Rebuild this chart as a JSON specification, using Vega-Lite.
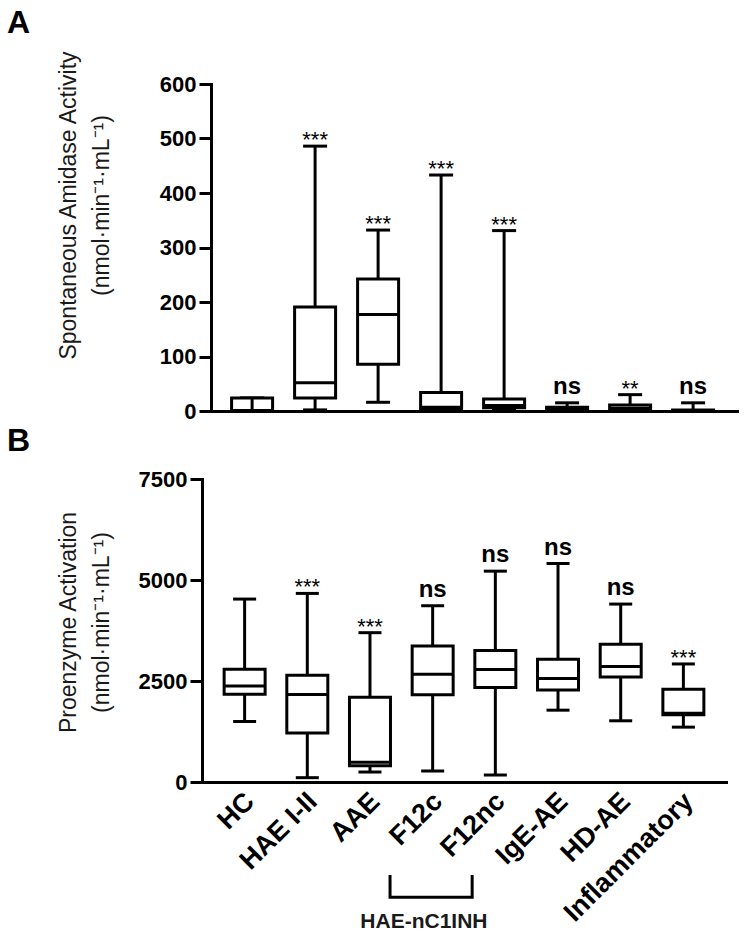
{
  "$schema": "https://vega.github.io/schema/vega-lite/v6.json",
  "background": "white",
  "padding": {"left": 7, "top": 6, "right": 5, "bottom": 4},
  "config": {
    "font": "Liberation Sans",
    "view": {"stroke": null},
    "tick": {"opacity": 1},
    "axis": {
      "domainColor": "black", "domainWidth": 3, "domainCap": "square",
      "tickColor": "black", "tickWidth": 3, "tickSize": 12,
      "labelFont": "Liberation Sans", "labelFontSize": 22, "labelFontWeight": "bold", "labelColor": "black", "labelPadding": 3,
      "grid": false,
      "titleFont": "Liberation Sans", "titleFontSize": 23, "titleFontWeight": "normal", "titleColor": "#1a1a1a", "titleLineHeight": 33
    },
    "title": {"font": "Liberation Sans", "fontSize": 32, "fontWeight": "bold", "color": "black", "anchor": "start", "frame": "group"}
  },
  "datasets": {
    "A": [
      {"group": "HC", "min": 0, "q1": 1, "median": 1, "q3": 24, "max": 24, "sig": "", "through": true},
      {"group": "HAE I-II", "min": 2, "q1": 24, "median": 52, "q3": 191, "max": 486, "sig": "***", "through": false},
      {"group": "AAE", "min": 16, "q1": 86, "median": 177, "q3": 242, "max": 332, "sig": "***", "through": false},
      {"group": "F12c", "min": 1, "q1": 3, "median": 7, "q3": 34, "max": 433, "sig": "***", "through": false},
      {"group": "F12nc", "min": 2, "q1": 6, "median": 10, "q3": 22, "max": 331, "sig": "***", "through": false},
      {"group": "IgE-AE", "min": 0, "q1": 1, "median": 3, "q3": 7, "max": 15, "sig": "ns", "through": false},
      {"group": "HD-AE", "min": 0, "q1": 2, "median": 5, "q3": 11, "max": 30, "sig": "**", "through": false},
      {"group": "Inflammatory", "min": 0, "q1": 0, "median": 1, "q3": 2, "max": 15, "sig": "ns", "through": false}
    ],
    "B": [
      {"group": "HC", "min": 1498, "q1": 2173, "median": 2379, "q3": 2791, "max": 4528, "sig": ""},
      {"group": "HAE I-II", "min": 107, "q1": 1210, "median": 2165, "q3": 2642, "max": 4668, "sig": "***"},
      {"group": "AAE", "min": 247, "q1": 403, "median": 486, "q3": 2099, "max": 3696, "sig": "***"},
      {"group": "F12c", "min": 272, "q1": 2157, "median": 2667, "q3": 3367, "max": 4363, "sig": "ns"},
      {"group": "F12nc", "min": 173, "q1": 2338, "median": 2782, "q3": 3252, "max": 5219, "sig": "ns"},
      {"group": "IgE-AE", "min": 1778, "q1": 2280, "median": 2560, "q3": 3038, "max": 5408, "sig": "ns"},
      {"group": "HD-AE", "min": 1515, "q1": 2601, "median": 2857, "q3": 3408, "max": 4404, "sig": "ns"},
      {"group": "Inflammatory", "min": 1358, "q1": 1663, "median": 1704, "q3": 2297, "max": 2922, "sig": "***"}
    ],
    "bracket": [
      {"bx": 2.32, "by": -2300, "o": 1},
      {"bx": 2.32, "by": -2850, "o": 2},
      {"bx": 3.63, "by": -2850, "o": 3},
      {"bx": 3.63, "by": -2300, "o": 4}
    ],
    "bracketLabel": [
      {"bx": 2.86, "by": -3614, "label": "HAE-nC1INH"}
    ]
  },
  "spacing": 3,
  "vconcat": [
    {
      "title": {"text": "A", "dx": -195, "offset": 10},
      "width": 535,
      "height": 327,
      "data": {"name": "A"},
      "encoding": {
        "x": {"field": "group", "type": "nominal", "sort": null, "scale": {"type": "point", "padding": 0.746, "align": 0.533},
              "axis": {"labels": false, "ticks": false, "title": null}}
      },
      "layer": [
        {
          "mark": {"type": "rule", "strokeWidth": 3, "color": "black"},
          "encoding": {
            "y": {"field": "min", "type": "quantitative", "scale": {"domain": [0, 600], "nice": false},
                  "axis": {"values": [0, 100, 200, 300, 400, 500, 600], "offset": -9,
                           "title": ["Spontaneous Amidase Activity", "(nmol·min⁻¹·mL⁻¹)"],
                           "titleX": -131, "titleY": 121, "titleBaseline": "bottom", "titleAlign": "center"}},
            "y2": {"field": "max"}
          }
        },
        {
          "mark": {"type": "tick", "thickness": 3, "size": 24, "color": "black", "opacity": 1},
          "encoding": {"y": {"field": "max", "type": "quantitative"}}
        },
        {
          "mark": {"type": "tick", "thickness": 3, "size": 24, "color": "black", "opacity": 1},
          "encoding": {"y": {"field": "min", "type": "quantitative"}}
        },
        {
          "mark": {"type": "bar", "width": 41, "fill": "white", "stroke": "black", "strokeWidth": 3, "opacity": 1},
          "encoding": {"y": {"field": "q1", "type": "quantitative"}, "y2": {"field": "q3"}}
        },
        {
          "mark": {"type": "tick", "thickness": 3, "size": 41, "color": "black", "opacity": 1},
          "encoding": {"y": {"field": "median", "type": "quantitative"}}
        },
        {
          "transform": [{"filter": "datum.through"}],
          "mark": {"type": "rule", "strokeWidth": 3, "color": "black"},
          "encoding": {"y": {"field": "min", "type": "quantitative"}, "y2": {"field": "max"}}
        },
        {
          "transform": [{"filter": "datum.sig == 'ns'"}],
          "mark": {"type": "text", "fontWeight": "bold", "fontSize": 24, "baseline": "alphabetic", "dy": -9, "color": "black"},
          "encoding": {"y": {"field": "max", "type": "quantitative"}, "text": {"field": "sig"}}
        },
        {
          "transform": [{"filter": "datum.sig != 'ns' && datum.sig != ''"}],
          "mark": {"type": "text", "fontSize": 22, "baseline": "alphabetic", "dy": 1, "color": "black"},
          "encoding": {"y": {"field": "max", "type": "quantitative"}, "text": {"field": "sig"}}
        }
      ]
    },
    {
      "title": {"text": "B", "dx": -195, "offset": 10},
      "width": 524,
      "height": 303,
      "resolve": {"scale": {"x": "independent"}},
      "layer": [
        {
          "data": {"name": "B"},
          "encoding": {
            "x": {"field": "group", "type": "nominal", "sort": null, "scale": {"type": "point", "padding": 0.68},
                  "axis": {"ticks": false, "title": null, "labelAngle": -45, "labelAlign": "right", "labelBaseline": "middle",
                           "labelPadding": 15, "labelOffset": 5, "labelFontSize": 27, "labelOverlap": false, "labelLimit": 0}}
          },
          "layer": [
            {
              "mark": {"type": "rule", "strokeWidth": 3, "color": "black"},
              "encoding": {
                "y": {"field": "min", "type": "quantitative", "scale": {"domain": [0, 7500], "nice": false},
                      "axis": {"values": [0, 2500, 5000, 7500], "format": "d",
                               "title": ["Proenzyme Activation", "(nmol·min⁻¹·mL⁻¹)"],
                               "titleX": -122, "titleY": 143, "titleBaseline": "bottom", "titleAlign": "center"}},
                "y2": {"field": "max"}
              }
            },
            {
              "mark": {"type": "tick", "thickness": 3, "size": 23, "color": "black", "opacity": 1},
              "encoding": {"y": {"field": "max", "type": "quantitative"}}
            },
            {
              "mark": {"type": "tick", "thickness": 3, "size": 23, "color": "black", "opacity": 1},
              "encoding": {"y": {"field": "min", "type": "quantitative"}}
            },
            {
              "mark": {"type": "bar", "width": 41, "fill": "white", "stroke": "black", "strokeWidth": 3, "opacity": 1},
              "encoding": {"y": {"field": "q1", "type": "quantitative"}, "y2": {"field": "q3"}}
            },
            {
              "mark": {"type": "tick", "thickness": 3, "size": 41, "color": "black", "opacity": 1},
              "encoding": {"y": {"field": "median", "type": "quantitative"}}
            },
            {
              "transform": [{"filter": "datum.sig == 'ns'"}],
              "mark": {"type": "text", "fontWeight": "bold", "fontSize": 24, "baseline": "alphabetic", "dy": -9, "color": "black"},
              "encoding": {"y": {"field": "max", "type": "quantitative"}, "text": {"field": "sig"}}
            },
            {
              "transform": [{"filter": "datum.sig != 'ns' && datum.sig != ''"}],
              "mark": {"type": "text", "fontSize": 22, "baseline": "alphabetic", "dy": 1, "color": "black"},
              "encoding": {"y": {"field": "max", "type": "quantitative"}, "text": {"field": "sig"}}
            }
          ]
        },
        {
          "data": {"name": "bracket"},
          "mark": {"type": "line", "strokeWidth": 3, "color": "black", "strokeJoin": "miter", "strokeCap": "butt"},
          "encoding": {
            "x": {"field": "bx", "type": "quantitative", "scale": {"domain": [-0.68, 7.68], "nice": false, "zero": false}, "axis": null},
            "y": {"field": "by", "type": "quantitative"},
            "order": {"field": "o"}
          }
        },
        {
          "data": {"name": "bracketLabel"},
          "mark": {"type": "text", "fontSize": 21, "fontWeight": "bold", "baseline": "alphabetic", "color": "#1a1a1a"},
          "encoding": {
            "x": {"field": "bx", "type": "quantitative", "scale": {"domain": [-0.68, 7.68], "nice": false, "zero": false}, "axis": null},
            "y": {"field": "by", "type": "quantitative"},
            "text": {"field": "label"}
          }
        }
      ]
    }
  ]
}
